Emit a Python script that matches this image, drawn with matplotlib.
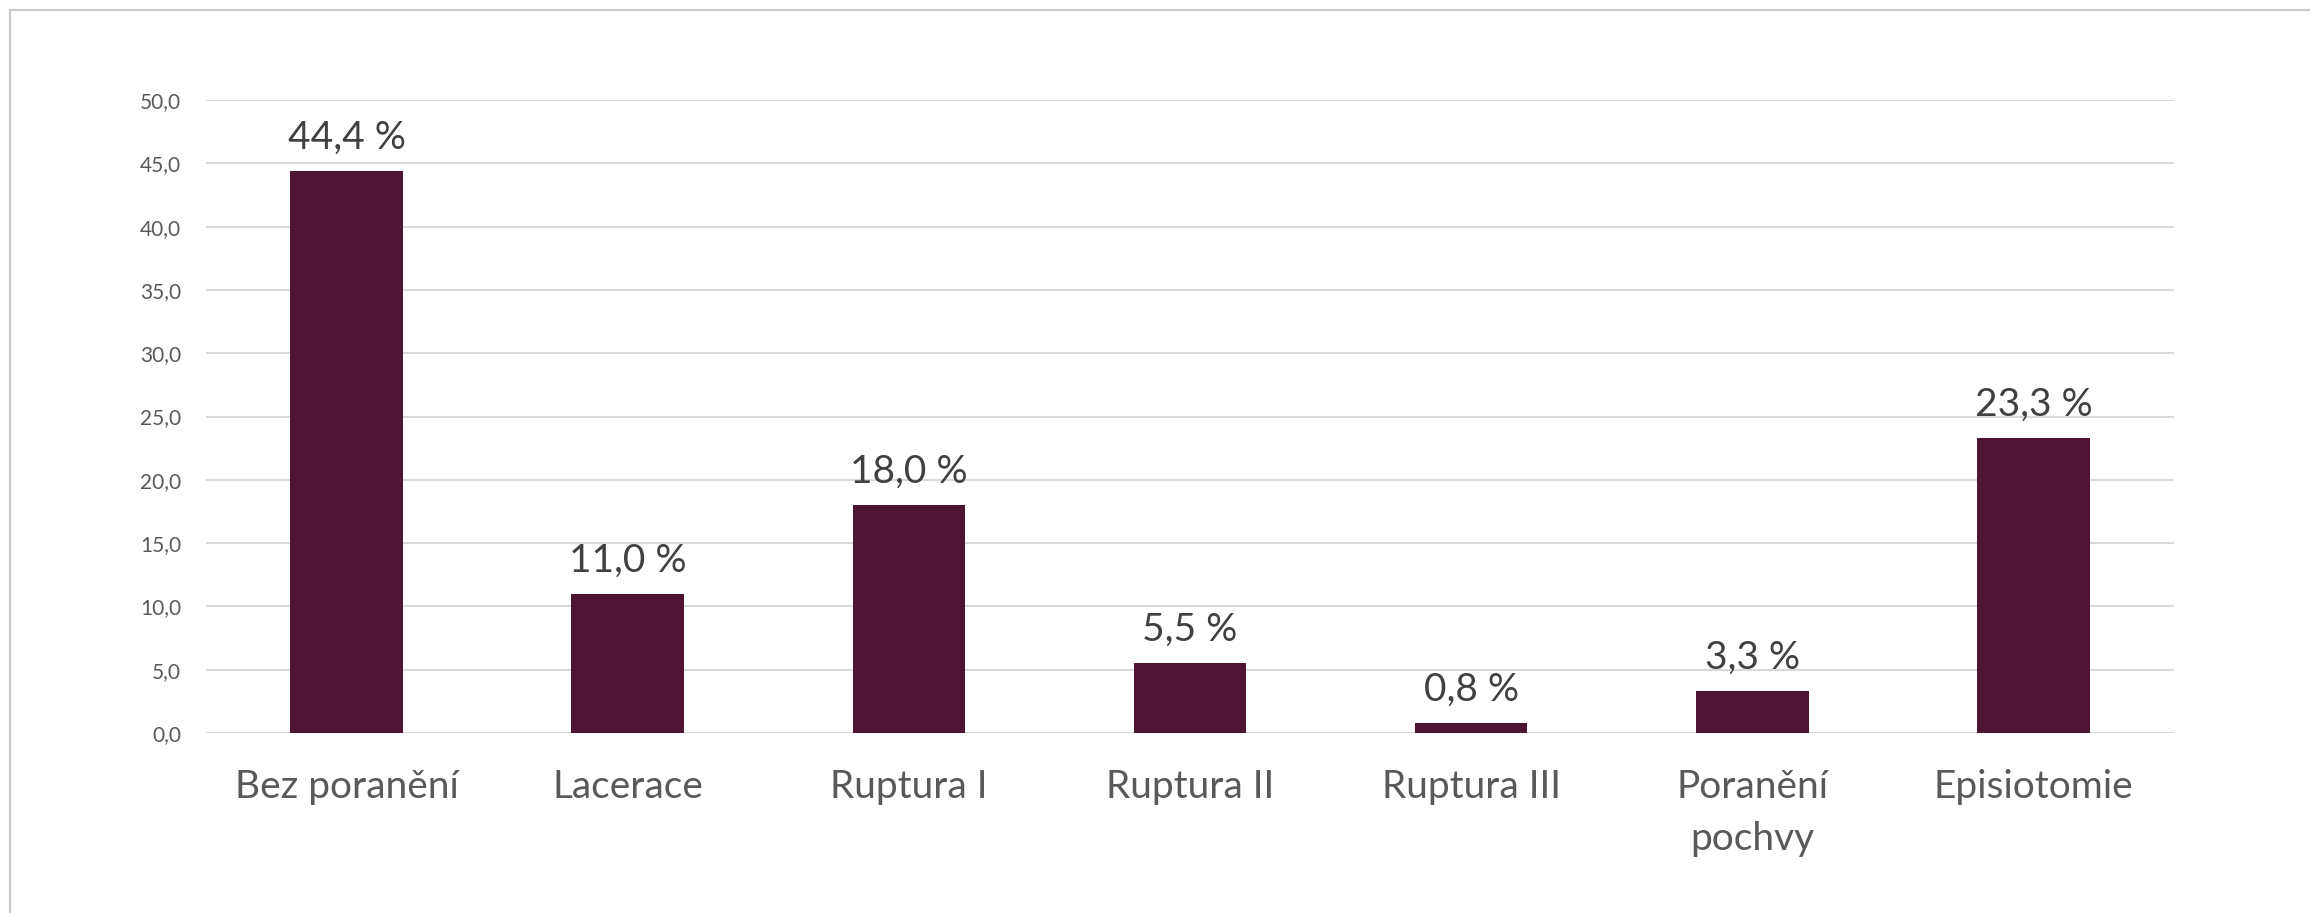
import matplotlib
matplotlib.use("Agg")
import matplotlib.pyplot as plt
from matplotlib.lines import Line2D

plt.rcParams['font.family'] = ['Lato', 'DejaVu Sans']

categories = ["Bez poranění", "Lacerace", "Ruptura I", "Ruptura II", "Ruptura III", "Poranění\npochvy", "Episiotomie"]
values = [44.4, 11.0, 18.0, 5.5, 0.8, 3.3, 23.3]
yticks = [0, 5, 10, 15, 20, 25, 30, 35, 40, 45, 50]

W, H = 2310, 913
fig = plt.figure(figsize=(W / 100, H / 100), dpi=100)
ax = fig.add_axes([206 / W, 1 - 733 / H, (2174 - 206) / W, (733 - 100) / H])

x = list(range(len(categories)))
bars = ax.bar(x, values, width=0.4, color="#4E1533", zorder=3)

ax.set_xlim(-0.5, len(categories) - 0.5)
ax.set_ylim(0, 50)
ax.set_yticks(yticks)
ax.set_yticklabels([f"{v:.1f}".replace(".", ",") for v in yticks], fontsize=15, color="#595959")
ax.set_xticks(x)
ax.set_xticklabels(categories, fontsize=28, color="#595959", linespacing=1.55)
ax.tick_params(axis="both", length=0)
ax.tick_params(axis="y", pad=18)
ax.tick_params(axis="x", pad=26)
ax.yaxis.grid(True, color="#d9d9d9", linewidth=1.5, zorder=0)
for s in ax.spines.values():
    s.set_visible(False)

for xi, v in zip(x, values):
    ax.annotate(f"{v:.1f} %".replace(".", ","), (xi, v), xytext=(0, 11), textcoords="offset points",
                ha="center", va="bottom", fontsize=28, color="#404040")

fig.add_artist(Line2D([10 / W, 1], [1 - 10 / H, 1 - 10 / H], color="#c8c8c8", linewidth=1.5, transform=fig.transFigure))
fig.add_artist(Line2D([10 / W, 10 / W], [0, 1 - 10 / H], color="#c8c8c8", linewidth=1.5, transform=fig.transFigure))

fig.savefig("out.png", dpi=100, facecolor="white")
